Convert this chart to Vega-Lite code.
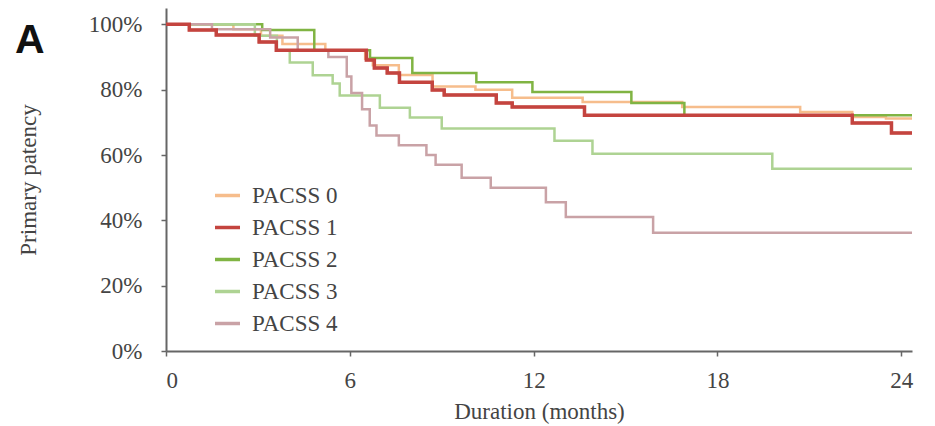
{
  "$schema": "https://vega.github.io/schema/vega-lite/v6.json",
  "width": 746,
  "height": 343,
  "autosize": "none",
  "padding": {"left": 166, "top": 8, "right": 23, "bottom": 75},
  "background": "white",
  "title": {"text": "A", "anchor": "start", "frame": "group", "orient": "top", "dx": -151, "offset": -54, "fontSize": 41, "fontWeight": "bold", "font": "Liberation Sans", "color": "#111"},
  "data": {"values": [
    {"s":"PACSS 0","t":0,"p":100},{"s":"PACSS 0","t":2.2,"p":98.5},{"s":"PACSS 0","t":3.1,"p":96.5},{"s":"PACSS 0","t":3.8,"p":94},{"s":"PACSS 0","t":5.2,"p":92},{"s":"PACSS 0","t":6.5,"p":89.5},{"s":"PACSS 0","t":6.75,"p":87.5},{"s":"PACSS 0","t":7.6,"p":84.5},{"s":"PACSS 0","t":8.7,"p":81},{"s":"PACSS 0","t":10.1,"p":80},{"s":"PACSS 0","t":11.3,"p":77.5},{"s":"PACSS 0","t":13.6,"p":76.2},{"s":"PACSS 0","t":16.85,"p":74.7},{"s":"PACSS 0","t":20.7,"p":73.2},{"s":"PACSS 0","t":22.4,"p":71.6},{"s":"PACSS 0","t":23.5,"p":71.2},{"s":"PACSS 0","t":24.35,"p":71.2},
    {"s":"PACSS 1","t":0,"p":100},{"s":"PACSS 1","t":0.76,"p":98.3},{"s":"PACSS 1","t":1.64,"p":96.7},{"s":"PACSS 1","t":3.04,"p":94.6},{"s":"PACSS 1","t":3.6,"p":92.1},{"s":"PACSS 1","t":6.54,"p":89.1},{"s":"PACSS 1","t":6.8,"p":86.6},{"s":"PACSS 1","t":7.22,"p":85.1},{"s":"PACSS 1","t":7.62,"p":82.3},{"s":"PACSS 1","t":8.69,"p":79.9},{"s":"PACSS 1","t":9.08,"p":78.4},{"s":"PACSS 1","t":10.78,"p":75.9},{"s":"PACSS 1","t":11.3,"p":74.7},{"s":"PACSS 1","t":13.66,"p":72.2},{"s":"PACSS 1","t":22.4,"p":69.8},{"s":"PACSS 1","t":23.68,"p":66.7},{"s":"PACSS 1","t":24.35,"p":66.7},
    {"s":"PACSS 2","t":0,"p":100},{"s":"PACSS 2","t":3.14,"p":98.3},{"s":"PACSS 2","t":4.84,"p":92.1},{"s":"PACSS 2","t":6.66,"p":89.7},{"s":"PACSS 2","t":8.04,"p":85.1},{"s":"PACSS 2","t":10.13,"p":82.3},{"s":"PACSS 2","t":11.96,"p":79.3},{"s":"PACSS 2","t":15.19,"p":75.9},{"s":"PACSS 2","t":16.92,"p":72.2},{"s":"PACSS 2","t":24.35,"p":72.2},
    {"s":"PACSS 3","t":0,"p":100},{"s":"PACSS 3","t":2.9,"p":96.5},{"s":"PACSS 3","t":3.62,"p":92},{"s":"PACSS 3","t":4.04,"p":88.3},{"s":"PACSS 3","t":4.79,"p":84.4},{"s":"PACSS 3","t":5.44,"p":81.9},{"s":"PACSS 3","t":5.67,"p":78.2},{"s":"PACSS 3","t":6.98,"p":74.5},{"s":"PACSS 3","t":7.96,"p":71.5},{"s":"PACSS 3","t":9.0,"p":68.1},{"s":"PACSS 3","t":12.68,"p":64.4},{"s":"PACSS 3","t":13.92,"p":60.4},{"s":"PACSS 3","t":19.79,"p":55.8},{"s":"PACSS 3","t":24.35,"p":55.8},
    {"s":"PACSS 4","t":0,"p":100},{"s":"PACSS 4","t":1.5,"p":98.5},{"s":"PACSS 4","t":3.4,"p":96},{"s":"PACSS 4","t":4.3,"p":92},{"s":"PACSS 4","t":5.3,"p":90},{"s":"PACSS 4","t":5.9,"p":84},{"s":"PACSS 4","t":6.05,"p":79},{"s":"PACSS 4","t":6.4,"p":74},{"s":"PACSS 4","t":6.65,"p":69},{"s":"PACSS 4","t":6.87,"p":66},{"s":"PACSS 4","t":7.6,"p":63},{"s":"PACSS 4","t":8.5,"p":60},{"s":"PACSS 4","t":8.8,"p":57},{"s":"PACSS 4","t":9.65,"p":53},{"s":"PACSS 4","t":10.6,"p":50},{"s":"PACSS 4","t":12.4,"p":45.5},{"s":"PACSS 4","t":13.05,"p":41},{"s":"PACSS 4","t":15.9,"p":36.2},{"s":"PACSS 4","t":24.35,"p":36.2}
  ]},
  "encoding": {
    "x": {"field": "t", "type": "quantitative", "scale": {"domain": [0, 24.35], "nice": false, "zero": false},
      "axis": {"values": [0, 6, 12, 18, 24], "title": "Duration (months)", "grid": false, "tickSize": 5, "labelPadding": 13, "titlePadding": 8}},
    "y": {"field": "p", "type": "quantitative", "scale": {"domain": [0, 105], "nice": false},
      "axis": {"values": [0, 20, 40, 60, 80, 100], "labelExpr": "datum.value + '%'", "title": "Primary patency", "grid": false, "tickSize": 5, "labelPadding": 19, "titlePadding": 48}},
    "color": {"field": "s", "type": "nominal",
      "scale": {"domain": ["PACSS 0", "PACSS 1", "PACSS 2", "PACSS 3", "PACSS 4"], "range": ["#f6bd8c", "#c4443f", "#80b443", "#aed393", "#c9a2a6"]},
      "legend": {"title": null, "orient": "none", "legendX": 47, "legendY": 173, "symbolType": "stroke", "symbolSize": 625, "symbolStrokeWidth": 3.5, "labelOffset": 10, "rowPadding": 5, "padding": 0, "labelFont": "Liberation Serif", "labelFontSize": 23, "labelColor": "#444"}}
  },
  "layer": [
    {"mark": {"type": "line", "interpolate": "step-after", "strokeWidth": 2.5}},
    {"transform": [{"filter": "datum.s === 'PACSS 1'"}], "mark": {"type": "line", "interpolate": "step-after", "strokeWidth": 3.5}}
  ],
  "config": {
    "view": {"stroke": null},
    "axis": {"domainColor": "#666", "domainWidth": 2, "tickColor": "#666", "tickWidth": 1.5, "labelFont": "Liberation Serif", "labelFontSize": 23, "labelColor": "#444", "titleFont": "Liberation Serif", "titleFontSize": 23, "titleFontWeight": "normal", "titleColor": "#444"}
  }
}
